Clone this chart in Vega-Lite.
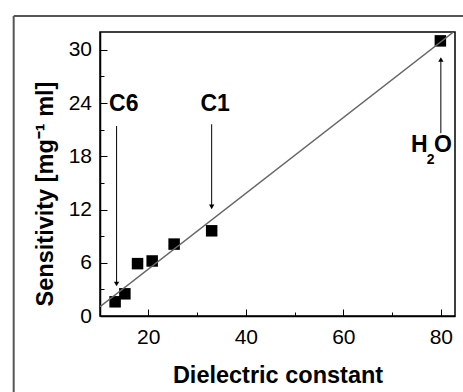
{
  "$schema": "https://vega.github.io/schema/vega-lite/v6.json",
  "width": 355,
  "height": 284,
  "autosize": "none",
  "padding": {"left": 100, "top": 32, "right": 8, "bottom": 76},
  "background": "white",
  "config": {
    "view": {"stroke": "black", "strokeWidth": 1.5},
    "font": "Liberation Sans"
  },
  "datasets": {
    "points": [
      {"x": 13.2, "y": 1.6},
      {"x": 15.2, "y": 2.5},
      {"x": 17.8, "y": 5.9},
      {"x": 20.8, "y": 6.2},
      {"x": 25.3, "y": 8.1},
      {"x": 33.0, "y": 9.6},
      {"x": 79.9, "y": 31.0}
    ],
    "fit": [
      {"x": 10.1, "y": 1.05},
      {"x": 82.6, "y": 32.0}
    ],
    "arrows": [
      {"x": 13.5, "y": 21.4, "y2": 3.8},
      {"x": 33.0, "y": 21.6, "y2": 12.5},
      {"x": 80.0, "y": 20.6, "y2": 28.7}
    ],
    "heads": [
      {"x": 13.5, "y": 3.6, "dir": "down"},
      {"x": 33.0, "y": 12.3, "dir": "down"},
      {"x": 80.0, "y": 28.9, "dir": "up"}
    ],
    "labels": [
      {"x": 14.97, "y": 23.1, "t": "C6", "role": "main"},
      {"x": 33.72, "y": 23.1, "t": "C1", "role": "main"},
      {"x": 75.6, "y": 18.48, "t": "H", "role": "main"},
      {"x": 77.89, "y": 17.13, "t": "2", "role": "sub"},
      {"x": 80.45, "y": 18.48, "t": "O", "role": "main"}
    ],
    "frame": [
      {"x": -7.6, "y": -30, "y2": 33.8},
      {"x": -7.6, "y": 33.8, "x2": 130}
    ]
  },
  "encoding": {
    "x": {
      "field": "x", "type": "quantitative",
      "scale": {"domain": [10.1, 82.9], "nice": false, "zero": false},
      "axis": {
        "values": [20, 30, 40, 50, 60, 70, 80],
        "labelExpr": "datum.value % 20 === 0 ? datum.label : ''",
        "tickSize": {"condition": {"test": "datum.value % 20 === 0", "value": -7}, "value": -4},
        "labelPadding": 17.4,
        "labelFontSize": 21,
        "labelFont": "Liberation Sans",
        "labelColor": "black",
        "labelFlush": false,
        "labelOverlap": false,
        "tickColor": "black",
        "tickWidth": 1,
        "domainColor": "black",
        "domainWidth": 1.5,
        "grid": false,
        "title": "Dielectric constant",
        "titleFont": "Liberation Sans",
        "titleFontSize": 23.5,
        "titleFontWeight": "bold",
        "titleColor": "black",
        "titleBaseline": "alphabetic",
        "titleY": 66
      }
    },
    "y": {
      "field": "y", "type": "quantitative",
      "scale": {"domain": [0, 32], "nice": false, "zero": false},
      "axis": {
        "values": [0, 3, 6, 9, 12, 15, 18, 21, 24, 27, 30],
        "labelExpr": "datum.value % 6 === 0 ? datum.label : ''",
        "tickSize": {"condition": {"test": "datum.value % 6 === 0", "value": -7}, "value": -4},
        "labelPadding": 15.5,
        "labelFontSize": 21,
        "labelFont": "Liberation Sans",
        "labelColor": "black",
        "labelFlush": false,
        "labelOverlap": false,
        "tickColor": "black",
        "tickWidth": 1,
        "domainColor": "black",
        "domainWidth": 1.5,
        "grid": false,
        "title": "Sensitivity [mg⁻¹ ml]",
        "titleFont": "Liberation Sans",
        "titleFontSize": 23.5,
        "titleFontWeight": "bold",
        "titleColor": "black",
        "titleBaseline": "alphabetic",
        "titleX": -48,
        "titleY": 161.5
      }
    }
  },
  "layer": [
    {
      "data": {"name": "frame"},
      "mark": {"type": "rule", "color": "#555555", "strokeWidth": 2, "clip": false},
      "encoding": {
        "x2": {"field": "x2"},
        "y2": {"field": "y2"}
      }
    },
    {
      "data": {"name": "points"},
      "mark": {"type": "point", "shape": "square", "filled": true, "color": "black", "size": 132, "opacity": 1}
    },
    {
      "data": {"name": "fit"},
      "mark": {"type": "line", "color": "#666666", "strokeWidth": 1.5, "clip": true}
    },
    {
      "data": {"name": "arrows"},
      "mark": {"type": "rule", "color": "black", "strokeWidth": 1},
      "encoding": {
        "y2": {"field": "y2"}
      }
    },
    {
      "data": {"name": "heads"},
      "mark": {"type": "point", "filled": true, "color": "black", "size": 28, "opacity": 1},
      "encoding": {
        "shape": {"field": "dir", "type": "nominal", "scale": {"domain": ["down", "up"], "range": ["triangle-down", "triangle-up"]}, "legend": null}
      }
    },
    {
      "data": {"name": "labels"},
      "mark": {"type": "text", "font": "Liberation Sans", "fontWeight": "bold", "color": "black", "align": "center", "baseline": "alphabetic"},
      "encoding": {
        "text": {"field": "t"},
        "size": {"field": "role", "type": "nominal", "scale": {"domain": ["main", "sub"], "range": [23, 14]}, "legend": null}
      }
    }
  ]
}
